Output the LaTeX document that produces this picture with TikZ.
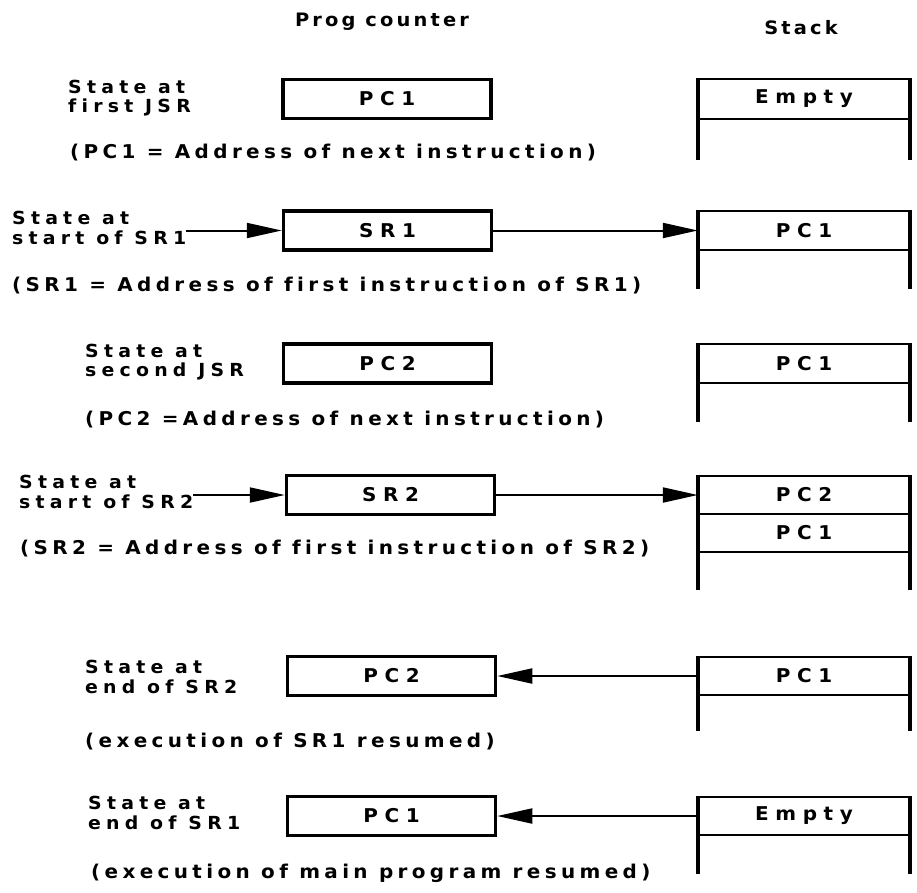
\documentclass[tikz,border=0pt]{standalone}
\usepackage{fontspec}
\setmainfont{DejaVu Sans}
\newfontfamily\notefont[FakeStretch=1.05,LetterSpace=23,Ligatures=NoCommon]{DejaVu Sans Bold}
\newfontfamily\labelfont[FakeStretch=1.05,LetterSpace=29,Ligatures=NoCommon]{DejaVu Sans Bold}
\newfontfamily\cellfont[FakeStretch=1.05,LetterSpace=35,Ligatures=NoCommon]{DejaVu Sans Bold}
\newfontfamily\headfont[FakeStretch=1.05,LetterSpace=17]{DejaVu Sans Bold}
\usetikzlibrary{arrows.meta}

\tikzset{
  regbox/.style={draw, line width=3.5pt, minimum width=208pt, minimum height=39pt,
    inner sep=0pt, font=\cellfont\fontsize{19}{21}\selectfont},
  cell/.style={minimum width=212pt, minimum height=38pt, inner sep=0pt,
    font=\cellfont\fontsize{19}{21}\selectfont},
  statelabel/.style={anchor=west, align=left, inner sep=0pt,
    font=\labelfont\fontsize{18}{19.5}\selectfont},
  note/.style={anchor=west, inner sep=0pt, font=\notefont\fontsize{19}{21}\selectfont},
  head/.style={inner sep=0pt, font=\headfont\fontsize{18.5}{21}\selectfont},
  arr/.style={line width=2pt, -{Triangle[length=35pt,width=15pt]}},
  wall/.style={line width=4.8pt},
  shelf/.style={line width=2.8pt},
}

\begin{document}
\begin{tikzpicture}[x=1pt,y=-1pt]
\useasboundingbox (0,0) rectangle (917,892);

% column headings
\node[head] (hpc) at (382,22) {Prog counter};
\node[head] (hst) at (801,28) {Stack};

% ---- state at first JSR
\node[statelabel] (lab1) at (68,98) {State at\\first JSR};
\node[regbox] (pc1) at (387,99) {PC1};
\draw[shelf] (698,79) -- (910,79);
\draw[shelf] (698,119) -- (910,119);
\draw[wall] (698,78) -- (698,160);
\draw[wall] (910,78) -- (910,160);
\node[cell] (s1a) at (804,99) {Empty};
\node[note] (n1) at (70,153) {(PC1 = Address of next instruction)};

% ---- state at start of SR1
\node[statelabel] (lab2) at (12,228) {State at\\start of SR1};
\node[regbox] (pc2) at (387.5,230.5) {SR1};
\draw[shelf] (698,211) -- (910,211);
\draw[shelf] (698,250) -- (910,250);
\draw[wall] (698,210) -- (698,289);
\draw[wall] (910,210) -- (910,289);
\node[cell] (s2a) at (804,230.5) {PC1};
\draw[arr] (lab2.east |- pc2.west) -- (pc2.west);
\draw[arr] (pc2.east) -- (pc2.east -| s2a.west);
\node[note] (n2) at (12,286) {(SR1 = Address of first instruction of SR1)};

% ---- state at second JSR
\node[statelabel] (lab3) at (85,362) {State at\\second JSR};
\node[regbox] (pc3) at (387.5,363.5) {PC2};
\draw[shelf] (698,344) -- (910,344);
\draw[shelf] (698,383) -- (910,383);
\draw[wall] (698,343) -- (698,422);
\draw[wall] (910,343) -- (910,422);
\node[cell] (s3a) at (804,363.5) {PC1};
\node[note] (n3) at (85,420) {(PC2 =Address of next instruction)};

% ---- state at start of SR2
\node[statelabel] (lab4) at (19,492) {State at\\start of SR2};
\node[regbox] (pc4) at (390.5,495) {SR2};
\draw[shelf] (698,476) -- (910,476);
\draw[shelf] (698,514) -- (910,514);
\draw[shelf] (698,552) -- (910,552);
\draw[wall] (698,475) -- (698,590);
\draw[wall] (910,475) -- (910,590);
\node[cell] (s4a) at (804,495) {PC2};
\node[cell] (s4b) at (804,533) {PC1};
\draw[arr] (lab4.east |- pc4.west) -- (pc4.west);
\draw[arr] (pc4.east) -- (pc4.east -| s4a.west);
\node[note] (n4) at (20,549) {(SR2 = Address of first instruction of SR2)};

% ---- state at end of SR2
\node[statelabel] (lab5) at (85,677) {State at\\end of SR2};
\node[regbox] (pc5) at (391.5,676) {PC2};
\draw[shelf] (698,657) -- (910,657);
\draw[shelf] (698,695) -- (910,695);
\draw[wall] (698,656) -- (698,731);
\draw[wall] (910,656) -- (910,731);
\node[cell] (s5a) at (804,676) {PC1};
\draw[arr] (s5a.west |- pc5.east) -- (pc5.east);
\node[note] (n5) at (85,742) {(execution of SR1 resumed)};

% ---- state at end of SR1
\node[statelabel] (lab6) at (88,813) {State at\\end of SR1};
\node[regbox] (pc6) at (391.5,816) {PC1};
\draw[shelf] (698,797) -- (910,797);
\draw[shelf] (698,835) -- (910,835);
\draw[wall] (698,796) -- (698,874);
\draw[wall] (910,796) -- (910,874);
\node[cell] (s6a) at (804,816) {Empty};
\draw[arr] (s6a.west |- pc6.east) -- (pc6.east);
\node[note] (n6) at (91,873) {(execution of main program resumed)};
\end{tikzpicture}
\end{document}
